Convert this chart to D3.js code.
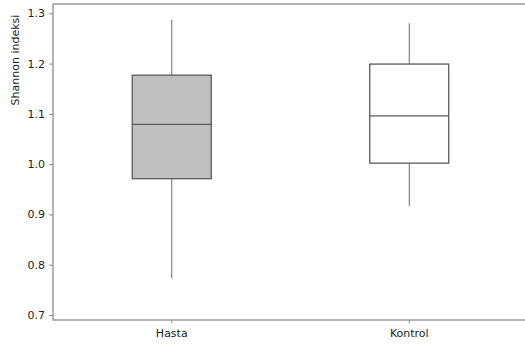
<!DOCTYPE html>
<html>
<head>
<meta charset="utf-8">
<script src="https://cdn.jsdelivr.net/npm/d3@7/dist/d3.min.js"></script>
<style>
  body { margin: 0; background: #fff; }
  svg text { font-family: "DejaVu Sans", Verdana, sans-serif; }
</style>
</head>
<body>
<svg width="525" height="349"></svg>
<script>
// box plot data
var groups = ["Hasta", "Kontrol"];
var whiskerLow = [0.773, 0.917];
var q1 = [0.971, 1.002];
var medians = [1.079, 1.096];
var q3 = [1.177, 1.199];
var whiskerHigh = [1.287, 1.280];
var fills = ["#c0c0c0", "#ffffff"];
var yTicks = [0.7, 0.8, 0.9, 1.0, 1.1, 1.2, 1.3];

var svg = d3.select("svg"),
    margin = {top: 4, right: -3, bottom: 29, left: 53},
    width = +svg.attr("width") - margin.left - margin.right,
    height = +svg.attr("height") - margin.top - margin.bottom;

var x = d3.scaleBand()
    .domain(groups)
    .range([0, width])
    .padding(0);
var y = d3.scaleLinear()
    .domain([0.69, 1.3185])
    .range([height, 0]);

var g = svg.append("g")
    .attr("transform", "translate(" + margin.left + "," + margin.top + ")");

// frame
g.append("rect")
    .attr("width", width)
    .attr("height", height)
    .attr("fill", "none")
    .attr("stroke", "#8c8c8c")
    .attr("stroke-width", 1.3);

var yAxis = g.append("g")
    .call(d3.axisLeft(y).tickValues(yTicks).tickFormat(d3.format(".1f")).tickSize(4).tickPadding(4));
var xAxis = g.append("g")
    .attr("transform", "translate(0," + height + ")")
    .call(d3.axisBottom(x).tickSize(3).tickPadding(6));

[yAxis, xAxis].forEach(function(a) {
    a.attr("font-family", null);
    a.select(".domain").remove();
    a.selectAll(".tick line").attr("stroke", "#8c8c8c");
    a.selectAll(".tick text").attr("fill", "#222").style("font-size", "11px");
});

svg.append("text")
    .attr("transform", "translate(19," + (margin.top + 56) + ") rotate(-90)")
    .attr("text-anchor", "middle")
    .attr("fill", "#222")
    .style("font-size", "11px")
    .text("Shannon indeksi");

var boxW = 79;

var box = g.selectAll(".box")
    .data(groups)
    .enter().append("g")
    .attr("class", "box")
    .attr("transform", function(d) { return "translate(" + (x(d) + x.bandwidth() / 2) + ",0)"; });

box.append("line")
    .attr("y1", function(d, i) { return y(whiskerHigh[i]); })
    .attr("y2", function(d, i) { return y(q3[i]); })
    .attr("stroke", "#6e6e6e");
box.append("line")
    .attr("y1", function(d, i) { return y(q1[i]); })
    .attr("y2", function(d, i) { return y(whiskerLow[i]); })
    .attr("stroke", "#6e6e6e");

box.append("rect")
    .attr("x", -boxW / 2)
    .attr("width", boxW)
    .attr("y", function(d, i) { return y(q3[i]); })
    .attr("height", function(d, i) { return y(q1[i]) - y(q3[i]); })
    .attr("fill", function(d, i) { return fills[i]; })
    .attr("stroke", "#5a5a5a")
    .attr("stroke-width", 1.3);

box.append("line")
    .attr("x1", -boxW / 2)
    .attr("x2", boxW / 2)
    .attr("y1", function(d, i) { return y(medians[i]); })
    .attr("y2", function(d, i) { return y(medians[i]); })
    .attr("stroke", "#5a5a5a")
    .attr("stroke-width", 1.3);
</script>
</body>
</html>
